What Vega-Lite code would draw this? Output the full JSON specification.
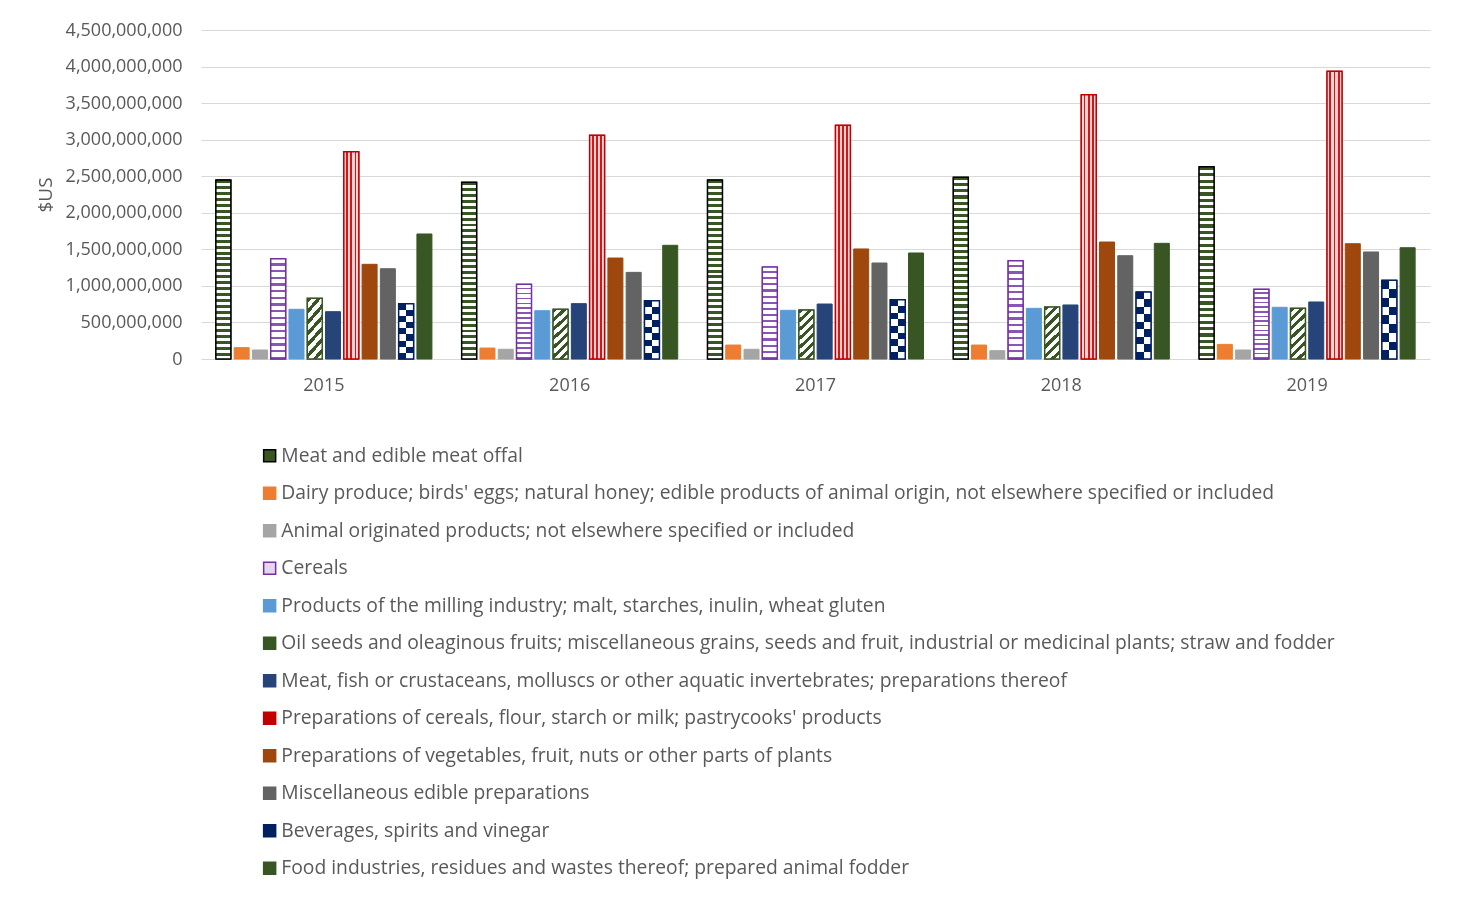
{
  "$schema": "https://vega.github.io/schema/vega-lite/v6.json",
  "autosize": "none",
  "padding": {"left": 201, "top": 30, "right": 32, "bottom": 541},
  "width": 1229,
  "height": 329,
  "background": "white",
  "config": {
    "font": "Open Sans",
    "view": {"stroke": null},
    "axis": {"labelColor": "#595959", "titleColor": "#595959", "labelFontSize": 18, "titleFontWeight": "normal"},
    "legend": {"labelFont": "Open Sans"}
  },
  "data": {
    "values": [
      {"year": "2015", "hs": "02", "value": 2450000000},
      {"year": "2015", "hs": "04", "value": 155000000},
      {"year": "2015", "hs": "05", "value": 123000000},
      {"year": "2015", "hs": "10", "value": 1370000000},
      {"year": "2015", "hs": "11", "value": 680000000},
      {"year": "2015", "hs": "12", "value": 830000000},
      {"year": "2015", "hs": "16", "value": 647000000},
      {"year": "2015", "hs": "19", "value": 2836000000},
      {"year": "2015", "hs": "20", "value": 1295000000},
      {"year": "2015", "hs": "21", "value": 1235000000},
      {"year": "2015", "hs": "22", "value": 756000000},
      {"year": "2015", "hs": "23", "value": 1710000000},
      {"year": "2016", "hs": "02", "value": 2417000000},
      {"year": "2016", "hs": "04", "value": 150000000},
      {"year": "2016", "hs": "05", "value": 133000000},
      {"year": "2016", "hs": "10", "value": 1021000000},
      {"year": "2016", "hs": "11", "value": 661000000},
      {"year": "2016", "hs": "12", "value": 680000000},
      {"year": "2016", "hs": "16", "value": 757000000},
      {"year": "2016", "hs": "19", "value": 3060000000},
      {"year": "2016", "hs": "20", "value": 1381000000},
      {"year": "2016", "hs": "21", "value": 1185000000},
      {"year": "2016", "hs": "22", "value": 797000000},
      {"year": "2016", "hs": "23", "value": 1555000000},
      {"year": "2017", "hs": "02", "value": 2448000000},
      {"year": "2017", "hs": "04", "value": 191000000},
      {"year": "2017", "hs": "05", "value": 133000000},
      {"year": "2017", "hs": "10", "value": 1258000000},
      {"year": "2017", "hs": "11", "value": 666000000},
      {"year": "2017", "hs": "12", "value": 670000000},
      {"year": "2017", "hs": "16", "value": 752000000},
      {"year": "2017", "hs": "19", "value": 3196000000},
      {"year": "2017", "hs": "20", "value": 1505000000},
      {"year": "2017", "hs": "21", "value": 1313000000},
      {"year": "2017", "hs": "22", "value": 811000000},
      {"year": "2017", "hs": "23", "value": 1450000000},
      {"year": "2018", "hs": "02", "value": 2485000000},
      {"year": "2018", "hs": "04", "value": 191000000},
      {"year": "2018", "hs": "05", "value": 114000000},
      {"year": "2018", "hs": "10", "value": 1345000000},
      {"year": "2018", "hs": "11", "value": 693000000},
      {"year": "2018", "hs": "12", "value": 711000000},
      {"year": "2018", "hs": "16", "value": 739000000},
      {"year": "2018", "hs": "19", "value": 3615000000},
      {"year": "2018", "hs": "20", "value": 1600000000},
      {"year": "2018", "hs": "21", "value": 1413000000},
      {"year": "2018", "hs": "22", "value": 916000000},
      {"year": "2018", "hs": "23", "value": 1582000000},
      {"year": "2019", "hs": "02", "value": 2630000000},
      {"year": "2019", "hs": "04", "value": 200000000},
      {"year": "2019", "hs": "05", "value": 123000000},
      {"year": "2019", "hs": "10", "value": 953000000},
      {"year": "2019", "hs": "11", "value": 707000000},
      {"year": "2019", "hs": "12", "value": 693000000},
      {"year": "2019", "hs": "16", "value": 780000000},
      {"year": "2019", "hs": "19", "value": 3935000000},
      {"year": "2019", "hs": "20", "value": 1577000000},
      {"year": "2019", "hs": "21", "value": 1464000000},
      {"year": "2019", "hs": "22", "value": 1076000000},
      {"year": "2019", "hs": "23", "value": 1522000000}
    ]
  },
  "transform": [
    {
      "lookup": "hs",
      "from": {
        "data": {
          "values": [
            {"hs": "02", "product": "Meat and edible meat offal"},
            {"hs": "04", "product": "Dairy produce; birds' eggs; natural honey; edible products of animal origin, not elsewhere specified or included"},
            {"hs": "05", "product": "Animal originated products; not elsewhere specified or included"},
            {"hs": "10", "product": "Cereals"},
            {"hs": "11", "product": "Products of the milling industry; malt, starches, inulin, wheat gluten"},
            {"hs": "12", "product": "Oil seeds and oleaginous fruits; miscellaneous grains, seeds and fruit, industrial or medicinal plants; straw and fodder"},
            {"hs": "16", "product": "Meat, fish or crustaceans, molluscs or other aquatic invertebrates; preparations thereof"},
            {"hs": "19", "product": "Preparations of cereals, flour, starch or milk; pastrycooks' products"},
            {"hs": "20", "product": "Preparations of vegetables, fruit, nuts or other parts of plants"},
            {"hs": "21", "product": "Miscellaneous edible preparations"},
            {"hs": "22", "product": "Beverages, spirits and vinegar"},
            {"hs": "23", "product": "Food industries, residues and wastes thereof; prepared animal fodder"}
          ]
        },
        "key": "hs",
        "fields": ["product"]
      }
    }
  ],
  "encoding": {
    "x": {
      "field": "year",
      "type": "ordinal",
      "scale": {"paddingInner": 0.121, "paddingOuter": 0.0605},
      "axis": {"title": null, "labelAngle": 0, "ticks": false, "domain": true, "domainColor": "#d9d9d9", "domainWidth": 1, "labelPadding": 17, "labelFontSize": 18, "grid": false}
    },
    "xOffset": {
      "field": "hs",
      "type": "nominal",
      "scale": {"domain": ["02", "04", "05", "10", "11", "12", "16", "19", "20", "21", "22", "23"], "paddingInner": 0.179, "paddingOuter": 0}
    },
    "y": {
      "field": "value",
      "type": "quantitative",
      "scale": {"domain": [0, 4500000000], "nice": false},
      "axis": {
        "title": "$US",
        "titleFontSize": 19,
        "titlePadding": 10,
        "format": ",d",
        "values": [0, 500000000, 1000000000, 1500000000, 2000000000, 2500000000, 3000000000, 3500000000, 4000000000, 4500000000],
        "domain": false,
        "ticks": false,
        "labelPadding": 19,
        "labelFontSize": 18,
        "grid": true,
        "gridColor": "#d9d9d9",
        "gridWidth": 1
      }
    }
  },
  "layer": [
    {
      "mark": {"type": "bar", "strokeWidth": 1},
      "encoding": {
        "fill": {
          "field": "product",
          "type": "nominal",
          "scale": {
            "domain": [
              "Meat and edible meat offal",
              "Dairy produce; birds' eggs; natural honey; edible products of animal origin, not elsewhere specified or included",
              "Animal originated products; not elsewhere specified or included",
              "Cereals",
              "Products of the milling industry; malt, starches, inulin, wheat gluten",
              "Oil seeds and oleaginous fruits; miscellaneous grains, seeds and fruit, industrial or medicinal plants; straw and fodder",
              "Meat, fish or crustaceans, molluscs or other aquatic invertebrates; preparations thereof",
              "Preparations of cereals, flour, starch or milk; pastrycooks' products",
              "Preparations of vegetables, fruit, nuts or other parts of plants",
              "Miscellaneous edible preparations",
              "Beverages, spirits and vinegar",
              "Food industries, residues and wastes thereof; prepared animal fodder"
            ],
            "range": ["#375623", "#ED7D31", "#A5A5A5", "#E4D5F0", "#5B9BD5", "#375623", "#264478", "#C00000", "#9E480E", "#636363", "#002060", "#375623"]
          },
          "legend": {
            "title": null, "orient": "none", "legendX": 59, "legendY": 416, "direction": "vertical", "columns": 1,
            "labelFontSize": 19.3, "labelColor": "#595959", "labelLimit": 1300, "symbolType": "square", "symbolSize": 144,
            "symbolStrokeWidth": 1.5, "labelOffset": 2, "rowPadding": 17.5, "padding": 0
          }
        },
        "stroke": {
          "field": "product",
          "type": "nominal",
          "scale": {
            "domain": [
              "Meat and edible meat offal",
              "Dairy produce; birds' eggs; natural honey; edible products of animal origin, not elsewhere specified or included",
              "Animal originated products; not elsewhere specified or included",
              "Cereals",
              "Products of the milling industry; malt, starches, inulin, wheat gluten",
              "Oil seeds and oleaginous fruits; miscellaneous grains, seeds and fruit, industrial or medicinal plants; straw and fodder",
              "Meat, fish or crustaceans, molluscs or other aquatic invertebrates; preparations thereof",
              "Preparations of cereals, flour, starch or milk; pastrycooks' products",
              "Preparations of vegetables, fruit, nuts or other parts of plants",
              "Miscellaneous edible preparations",
              "Beverages, spirits and vinegar",
              "Food industries, residues and wastes thereof; prepared animal fodder"
            ],
            "range": ["#000000", "#ED7D31", "#A5A5A5", "#7030A0", "#5B9BD5", "#375623", "#264478", "#C00000", "#9E480E", "#636363", "#002060", "#375623"]
          },
          "legend": {
            "title": null, "orient": "none", "legendX": 59, "legendY": 416, "direction": "vertical", "columns": 1,
            "labelFontSize": 19.3, "labelColor": "#595959", "labelLimit": 1300, "symbolType": "square", "symbolSize": 144,
            "symbolStrokeWidth": 1.5, "labelOffset": 2, "rowPadding": 17.5, "padding": 0
          }
        }
      }
    },
    {
      "transform": [{"filter": "datum.hs === '02'"}],
      "mark": {
        "type": "bar", "stroke": "#000000", "strokeWidth": 1.5,
        "fill": {
          "gradient": "linear", "x1": 0, "y1": 0, "x2": 0, "y2": 1,
          "stops": [
            {"offset": 0, "color": "#375623"}, {"offset": 0.0167, "color": "#375623"}, {"offset": 0.0167, "color": "#ffffff"}, {"offset": 0.0333, "color": "#ffffff"},
            {"offset": 0.0333, "color": "#375623"}, {"offset": 0.05, "color": "#375623"}, {"offset": 0.05, "color": "#ffffff"}, {"offset": 0.0667, "color": "#ffffff"},
            {"offset": 0.0667, "color": "#375623"}, {"offset": 0.0833, "color": "#375623"}, {"offset": 0.0833, "color": "#ffffff"}, {"offset": 0.1, "color": "#ffffff"},
            {"offset": 0.1, "color": "#375623"}, {"offset": 0.1167, "color": "#375623"}, {"offset": 0.1167, "color": "#ffffff"}, {"offset": 0.1333, "color": "#ffffff"},
            {"offset": 0.1333, "color": "#375623"}, {"offset": 0.15, "color": "#375623"}, {"offset": 0.15, "color": "#ffffff"}, {"offset": 0.1667, "color": "#ffffff"},
            {"offset": 0.1667, "color": "#375623"}, {"offset": 0.1833, "color": "#375623"}, {"offset": 0.1833, "color": "#ffffff"}, {"offset": 0.2, "color": "#ffffff"},
            {"offset": 0.2, "color": "#375623"}, {"offset": 0.2167, "color": "#375623"}, {"offset": 0.2167, "color": "#ffffff"}, {"offset": 0.2333, "color": "#ffffff"},
            {"offset": 0.2333, "color": "#375623"}, {"offset": 0.25, "color": "#375623"}, {"offset": 0.25, "color": "#ffffff"}, {"offset": 0.2667, "color": "#ffffff"},
            {"offset": 0.2667, "color": "#375623"}, {"offset": 0.2833, "color": "#375623"}, {"offset": 0.2833, "color": "#ffffff"}, {"offset": 0.3, "color": "#ffffff"},
            {"offset": 0.3, "color": "#375623"}, {"offset": 0.3167, "color": "#375623"}, {"offset": 0.3167, "color": "#ffffff"}, {"offset": 0.3333, "color": "#ffffff"},
            {"offset": 0.3333, "color": "#375623"}, {"offset": 0.35, "color": "#375623"}, {"offset": 0.35, "color": "#ffffff"}, {"offset": 0.3667, "color": "#ffffff"},
            {"offset": 0.3667, "color": "#375623"}, {"offset": 0.3833, "color": "#375623"}, {"offset": 0.3833, "color": "#ffffff"}, {"offset": 0.4, "color": "#ffffff"},
            {"offset": 0.4, "color": "#375623"}, {"offset": 0.4167, "color": "#375623"}, {"offset": 0.4167, "color": "#ffffff"}, {"offset": 0.4333, "color": "#ffffff"},
            {"offset": 0.4333, "color": "#375623"}, {"offset": 0.45, "color": "#375623"}, {"offset": 0.45, "color": "#ffffff"}, {"offset": 0.4667, "color": "#ffffff"},
            {"offset": 0.4667, "color": "#375623"}, {"offset": 0.4833, "color": "#375623"}, {"offset": 0.4833, "color": "#ffffff"}, {"offset": 0.5, "color": "#ffffff"},
            {"offset": 0.5, "color": "#375623"}, {"offset": 0.5167, "color": "#375623"}, {"offset": 0.5167, "color": "#ffffff"}, {"offset": 0.5333, "color": "#ffffff"},
            {"offset": 0.5333, "color": "#375623"}, {"offset": 0.55, "color": "#375623"}, {"offset": 0.55, "color": "#ffffff"}, {"offset": 0.5667, "color": "#ffffff"},
            {"offset": 0.5667, "color": "#375623"}, {"offset": 0.5833, "color": "#375623"}, {"offset": 0.5833, "color": "#ffffff"}, {"offset": 0.6, "color": "#ffffff"},
            {"offset": 0.6, "color": "#375623"}, {"offset": 0.6167, "color": "#375623"}, {"offset": 0.6167, "color": "#ffffff"}, {"offset": 0.6333, "color": "#ffffff"},
            {"offset": 0.6333, "color": "#375623"}, {"offset": 0.65, "color": "#375623"}, {"offset": 0.65, "color": "#ffffff"}, {"offset": 0.6667, "color": "#ffffff"},
            {"offset": 0.6667, "color": "#375623"}, {"offset": 0.6833, "color": "#375623"}, {"offset": 0.6833, "color": "#ffffff"}, {"offset": 0.7, "color": "#ffffff"},
            {"offset": 0.7, "color": "#375623"}, {"offset": 0.7167, "color": "#375623"}, {"offset": 0.7167, "color": "#ffffff"}, {"offset": 0.7333, "color": "#ffffff"},
            {"offset": 0.7333, "color": "#375623"}, {"offset": 0.75, "color": "#375623"}, {"offset": 0.75, "color": "#ffffff"}, {"offset": 0.7667, "color": "#ffffff"},
            {"offset": 0.7667, "color": "#375623"}, {"offset": 0.7833, "color": "#375623"}, {"offset": 0.7833, "color": "#ffffff"}, {"offset": 0.8, "color": "#ffffff"},
            {"offset": 0.8, "color": "#375623"}, {"offset": 0.8167, "color": "#375623"}, {"offset": 0.8167, "color": "#ffffff"}, {"offset": 0.8333, "color": "#ffffff"},
            {"offset": 0.8333, "color": "#375623"}, {"offset": 0.85, "color": "#375623"}, {"offset": 0.85, "color": "#ffffff"}, {"offset": 0.8667, "color": "#ffffff"},
            {"offset": 0.8667, "color": "#375623"}, {"offset": 0.8833, "color": "#375623"}, {"offset": 0.8833, "color": "#ffffff"}, {"offset": 0.9, "color": "#ffffff"},
            {"offset": 0.9, "color": "#375623"}, {"offset": 0.9167, "color": "#375623"}, {"offset": 0.9167, "color": "#ffffff"}, {"offset": 0.9333, "color": "#ffffff"},
            {"offset": 0.9333, "color": "#375623"}, {"offset": 0.95, "color": "#375623"}, {"offset": 0.95, "color": "#ffffff"}, {"offset": 0.9667, "color": "#ffffff"},
            {"offset": 0.9667, "color": "#375623"}, {"offset": 0.9833, "color": "#375623"}, {"offset": 0.9833, "color": "#ffffff"}, {"offset": 1, "color": "#ffffff"}
          ]
        }
      }
    },
    {
      "transform": [{"filter": "datum.hs === '10'"}],
      "mark": {
        "type": "bar", "stroke": "#7030A0", "strokeWidth": 1.5,
        "fill": {
          "gradient": "linear", "x1": 0, "y1": 0, "x2": 0, "y2": 1,
          "stops": [
            {"offset": 0, "color": "#ffffff"}, {"offset": 0.0433, "color": "#ffffff"}, {"offset": 0.0433, "color": "#8a55b5"}, {"offset": 0.0667, "color": "#8a55b5"},
            {"offset": 0.0667, "color": "#ffffff"}, {"offset": 0.11, "color": "#ffffff"}, {"offset": 0.11, "color": "#8a55b5"}, {"offset": 0.1333, "color": "#8a55b5"},
            {"offset": 0.1333, "color": "#ffffff"}, {"offset": 0.1767, "color": "#ffffff"}, {"offset": 0.1767, "color": "#8a55b5"}, {"offset": 0.2, "color": "#8a55b5"},
            {"offset": 0.2, "color": "#ffffff"}, {"offset": 0.2433, "color": "#ffffff"}, {"offset": 0.2433, "color": "#8a55b5"}, {"offset": 0.2667, "color": "#8a55b5"},
            {"offset": 0.2667, "color": "#ffffff"}, {"offset": 0.31, "color": "#ffffff"}, {"offset": 0.31, "color": "#8a55b5"}, {"offset": 0.3333, "color": "#8a55b5"},
            {"offset": 0.3333, "color": "#ffffff"}, {"offset": 0.3767, "color": "#ffffff"}, {"offset": 0.3767, "color": "#8a55b5"}, {"offset": 0.4, "color": "#8a55b5"},
            {"offset": 0.4, "color": "#ffffff"}, {"offset": 0.4433, "color": "#ffffff"}, {"offset": 0.4433, "color": "#8a55b5"}, {"offset": 0.4667, "color": "#8a55b5"},
            {"offset": 0.4667, "color": "#ffffff"}, {"offset": 0.51, "color": "#ffffff"}, {"offset": 0.51, "color": "#8a55b5"}, {"offset": 0.5333, "color": "#8a55b5"},
            {"offset": 0.5333, "color": "#ffffff"}, {"offset": 0.5767, "color": "#ffffff"}, {"offset": 0.5767, "color": "#8a55b5"}, {"offset": 0.6, "color": "#8a55b5"},
            {"offset": 0.6, "color": "#ffffff"}, {"offset": 0.6433, "color": "#ffffff"}, {"offset": 0.6433, "color": "#8a55b5"}, {"offset": 0.6667, "color": "#8a55b5"},
            {"offset": 0.6667, "color": "#ffffff"}, {"offset": 0.71, "color": "#ffffff"}, {"offset": 0.71, "color": "#8a55b5"}, {"offset": 0.7333, "color": "#8a55b5"},
            {"offset": 0.7333, "color": "#ffffff"}, {"offset": 0.7767, "color": "#ffffff"}, {"offset": 0.7767, "color": "#8a55b5"}, {"offset": 0.8, "color": "#8a55b5"},
            {"offset": 0.8, "color": "#ffffff"}, {"offset": 0.8433, "color": "#ffffff"}, {"offset": 0.8433, "color": "#8a55b5"}, {"offset": 0.8667, "color": "#8a55b5"},
            {"offset": 0.8667, "color": "#ffffff"}, {"offset": 0.91, "color": "#ffffff"}, {"offset": 0.91, "color": "#8a55b5"}, {"offset": 0.9333, "color": "#8a55b5"},
            {"offset": 0.9333, "color": "#ffffff"}, {"offset": 0.9767, "color": "#ffffff"}, {"offset": 0.9767, "color": "#8a55b5"}, {"offset": 1, "color": "#8a55b5"}
          ]
        }
      }
    },
    {
      "transform": [{"filter": "datum.hs === '12'"}],
      "mark": {
        "type": "bar", "stroke": "#375623", "strokeWidth": 1.5,
        "fill": {
          "gradient": "linear", "x1": 0, "y1": 0, "x2": 0.336, "y2": 1.188,
          "stops": [
            {"offset": 0, "color": "#375623"}, {"offset": 0.0643, "color": "#375623"}, {"offset": 0.0643, "color": "#ffffff"}, {"offset": 0.1429, "color": "#ffffff"},
            {"offset": 0.1429, "color": "#375623"}, {"offset": 0.2072, "color": "#375623"}, {"offset": 0.2072, "color": "#ffffff"}, {"offset": 0.2857, "color": "#ffffff"},
            {"offset": 0.2857, "color": "#375623"}, {"offset": 0.35, "color": "#375623"}, {"offset": 0.35, "color": "#ffffff"}, {"offset": 0.4286, "color": "#ffffff"},
            {"offset": 0.4286, "color": "#375623"}, {"offset": 0.4929, "color": "#375623"}, {"offset": 0.4929, "color": "#ffffff"}, {"offset": 0.5714, "color": "#ffffff"},
            {"offset": 0.5714, "color": "#375623"}, {"offset": 0.6357, "color": "#375623"}, {"offset": 0.6357, "color": "#ffffff"}, {"offset": 0.7143, "color": "#ffffff"},
            {"offset": 0.7143, "color": "#375623"}, {"offset": 0.7786, "color": "#375623"}, {"offset": 0.7786, "color": "#ffffff"}, {"offset": 0.8571, "color": "#ffffff"},
            {"offset": 0.8571, "color": "#375623"}, {"offset": 0.9214, "color": "#375623"}, {"offset": 0.9214, "color": "#ffffff"}, {"offset": 1, "color": "#ffffff"}
          ]
        }
      }
    },
    {
      "transform": [{"filter": "datum.hs === '19'"}],
      "mark": {
        "type": "bar", "stroke": "#C00000", "strokeWidth": 1.5,
        "fill": {
          "gradient": "linear", "x1": 0, "y1": 0, "x2": 1, "y2": 0,
          "stops": [
            {"offset": 0, "color": "#F7D3D3"}, {"offset": 0.16, "color": "#F7D3D3"}, {"offset": 0.16, "color": "#D01818"}, {"offset": 0.28, "color": "#D01818"},
            {"offset": 0.28, "color": "#F7D3D3"}, {"offset": 0.44, "color": "#F7D3D3"}, {"offset": 0.44, "color": "#D01818"}, {"offset": 0.56, "color": "#D01818"},
            {"offset": 0.56, "color": "#F7D3D3"}, {"offset": 0.72, "color": "#F7D3D3"}, {"offset": 0.72, "color": "#D01818"}, {"offset": 0.84, "color": "#D01818"},
            {"offset": 0.84, "color": "#F7D3D3"}, {"offset": 1, "color": "#F7D3D3"}
          ]
        }
      }
    },
    {
      "transform": [{"filter": "datum.hs === '22'"}],
      "mark": {
        "type": "bar",
        "fill": {
          "gradient": "linear", "x1": 0, "y1": 0, "x2": 1, "y2": 0,
          "stops": [
            {"offset": 0, "color": "#000000"}, {"offset": 0.5, "color": "#000000"}, {"offset": 0.5, "color": "#ffffff"}, {"offset": 1, "color": "#ffffff"}
          ]
        }
      }
    },
    {
      "transform": [{"filter": "datum.hs === '22'"}],
      "mark": {
        "type": "bar",
        "blend": "difference",
        "fill": {
          "gradient": "linear", "x1": 0, "y1": 0, "x2": 0, "y2": 1,
          "stops": [
            {"offset": 0, "color": "#000000"}, {"offset": 0.1111, "color": "#000000"}, {"offset": 0.1111, "color": "#ffffff"}, {"offset": 0.2222, "color": "#ffffff"},
            {"offset": 0.2222, "color": "#000000"}, {"offset": 0.3333, "color": "#000000"}, {"offset": 0.3333, "color": "#ffffff"}, {"offset": 0.4444, "color": "#ffffff"},
            {"offset": 0.4444, "color": "#000000"}, {"offset": 0.5556, "color": "#000000"}, {"offset": 0.5556, "color": "#ffffff"}, {"offset": 0.6667, "color": "#ffffff"},
            {"offset": 0.6667, "color": "#000000"}, {"offset": 0.7778, "color": "#000000"}, {"offset": 0.7778, "color": "#ffffff"}, {"offset": 0.8889, "color": "#ffffff"},
            {"offset": 0.8889, "color": "#000000"}, {"offset": 1, "color": "#000000"}
          ]
        }
      }
    },
    {
      "transform": [{"filter": "datum.hs === '22'"}],
      "mark": {"type": "bar", "blend": "lighten", "fill": "#002060"}
    },
    {
      "transform": [{"filter": "datum.hs === '22'"}],
      "mark": {"type": "bar", "fill": "#002060", "fillOpacity": 0, "stroke": "#002060", "strokeWidth": 1.5}
    }
  ]
}
